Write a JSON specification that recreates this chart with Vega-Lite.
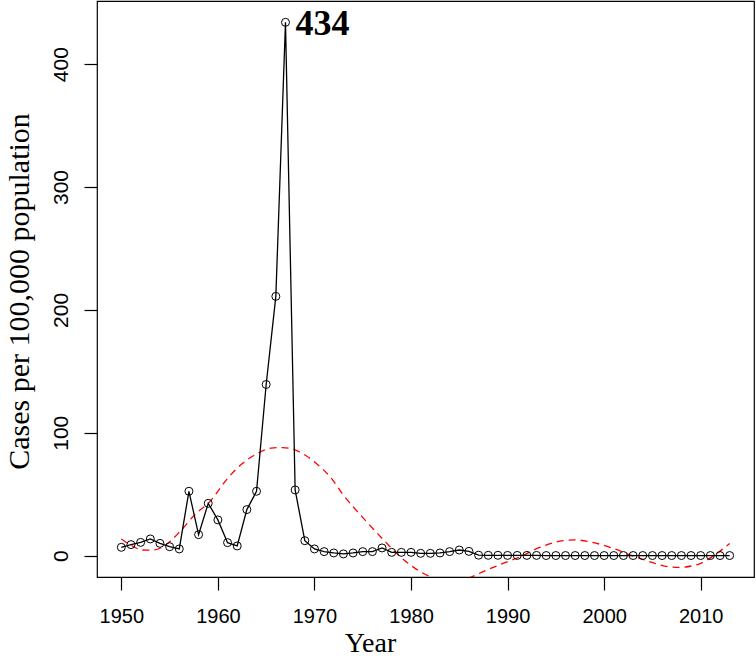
{
  "$schema": "https://vega.github.io/schema/vega-lite/v6.json",
  "width": 657,
  "height": 576,
  "autosize": {"type": "none"},
  "padding": {"left": 97, "top": 1, "right": 2, "bottom": 81},
  "background": "white",
  "config": {
    "view": {"stroke": "black", "strokeWidth": 1.2},
    "axis": {
      "grid": false,
      "domain": false,
      "ticks": true,
      "tickColor": "black",
      "tickWidth": 1.2,
      "tickSize": 13,
      "labelFont": "Liberation Sans",
      "labelFontSize": 20,
      "labelColor": "black",
      "titleFont": "Liberation Serif",
      "titleFontSize": 28,
      "titleFontWeight": "normal",
      "titleColor": "black"
    }
  },
  "datasets": {
    "cases": [
      {"year": 1950, "cases": 6.8}, {"year": 1951, "cases": 9.0}, {"year": 1952, "cases": 10.8},
      {"year": 1953, "cases": 13.6}, {"year": 1954, "cases": 10.0}, {"year": 1955, "cases": 7.3},
      {"year": 1956, "cases": 5.5}, {"year": 1957, "cases": 52.4}, {"year": 1958, "cases": 17.1},
      {"year": 1959, "cases": 42.6}, {"year": 1960, "cases": 29.1}, {"year": 1961, "cases": 10.6},
      {"year": 1962, "cases": 7.9}, {"year": 1963, "cases": 37.5}, {"year": 1964, "cases": 52.4},
      {"year": 1965, "cases": 139.3}, {"year": 1966, "cases": 211}, {"year": 1967, "cases": 434},
      {"year": 1968, "cases": 53.5}, {"year": 1969, "cases": 12.2}, {"year": 1970, "cases": 5.5},
      {"year": 1971, "cases": 3.3}, {"year": 1972, "cases": 2.2}, {"year": 1973, "cases": 1.4},
      {"year": 1974, "cases": 2.2}, {"year": 1975, "cases": 3.3}, {"year": 1976, "cases": 3.3},
      {"year": 1977, "cases": 6.3}, {"year": 1978, "cases": 2.7}, {"year": 1979, "cases": 2.7},
      {"year": 1980, "cases": 2.7}, {"year": 1981, "cases": 1.9}, {"year": 1982, "cases": 1.9},
      {"year": 1983, "cases": 2.2}, {"year": 1984, "cases": 3.3}, {"year": 1985, "cases": 4.6},
      {"year": 1986, "cases": 3.5}, {"year": 1987, "cases": 0.4}, {"year": 1988, "cases": 0.3},
      {"year": 1989, "cases": 0.3}, {"year": 1990, "cases": 0.2}, {"year": 1991, "cases": 0.2},
      {"year": 1992, "cases": 0.2}, {"year": 1993, "cases": 0.2}, {"year": 1994, "cases": 0.1},
      {"year": 1995, "cases": 0.1}, {"year": 1996, "cases": 0.1}, {"year": 1997, "cases": 0.1},
      {"year": 1998, "cases": 0.1}, {"year": 1999, "cases": 0.1}, {"year": 2000, "cases": 0.1},
      {"year": 2001, "cases": 0.1}, {"year": 2002, "cases": 0.1}, {"year": 2003, "cases": 0.1},
      {"year": 2004, "cases": 0.1}, {"year": 2005, "cases": 0.1}, {"year": 2006, "cases": 0.1},
      {"year": 2007, "cases": 0.1}, {"year": 2008, "cases": 0.1}, {"year": 2009, "cases": 0.1},
      {"year": 2010, "cases": 0.1}, {"year": 2011, "cases": 0.1}, {"year": 2012, "cases": 0.1},
      {"year": 2013, "cases": 0.1}
    ],
    "trend": [
      {"year": 1950, "fit": 13.6}, {"year": 1951, "fit": 8.5}, {"year": 1952.2, "fit": 4.6},
      {"year": 1953.2, "fit": 4.5}, {"year": 1954.2, "fit": 6.8}, {"year": 1955.1, "fit": 12},
      {"year": 1956.0, "fit": 19}, {"year": 1957.7, "fit": 34}, {"year": 1959.1, "fit": 43.4},
      {"year": 1961.1, "fit": 63.8}, {"year": 1962.5, "fit": 74.7}, {"year": 1964.3, "fit": 84},
      {"year": 1965.5, "fit": 87.5}, {"year": 1966.7, "fit": 88}, {"year": 1968, "fit": 86},
      {"year": 1969.1, "fit": 81.5}, {"year": 1970.5, "fit": 73}, {"year": 1971.8, "fit": 62.5},
      {"year": 1972.9, "fit": 50.3}, {"year": 1975.3, "fit": 28.5}, {"year": 1977.4, "fit": 10.8},
      {"year": 1978.4, "fit": 2.7}, {"year": 1980.8, "fit": -12.2}, {"year": 1982.5, "fit": -18.7},
      {"year": 1984.2, "fit": -21.5}, {"year": 1985.8, "fit": -18.7}, {"year": 1987.7, "fit": -12.2},
      {"year": 1989.8, "fit": -5.5}, {"year": 1991.2, "fit": -1.2}, {"year": 1993.2, "fit": 6.3},
      {"year": 1995.3, "fit": 11.6}, {"year": 1997.0, "fit": 12.8}, {"year": 1998.8, "fit": 10.8},
      {"year": 2000.8, "fit": 6.3}, {"year": 2002.9, "fit": 0}, {"year": 2004.6, "fit": -4.6},
      {"year": 2006.4, "fit": -8.7}, {"year": 2007.7, "fit": -9.5}, {"year": 2009.8, "fit": -6.8},
      {"year": 2011.5, "fit": 0.8}, {"year": 2013, "fit": 10}
    ]
  },
  "layer": [
    {
      "data": {"name": "trend"},
      "mark": {"type": "line", "color": "#ff0000", "strokeDash": [7, 5], "strokeWidth": 1.3, "clip": true, "interpolate": "monotone"},
      "encoding": {
        "x": {
          "field": "year", "type": "quantitative",
          "scale": {"domain": [1947.48, 2015.52], "nice": false, "zero": false},
          "axis": {
            "values": [1950, 1960, 1970, 1980, 1990, 2000, 2010],
            "format": "d",
            "labelPadding": 16,
            "title": "Year",
            "titleX": 273,
            "titleY": 74,
            "titleAlign": "center",
            "titleBaseline": "alphabetic"
          }
        },
        "y": {
          "field": "fit", "type": "quantitative",
          "scale": {"domain": [-17.36, 451.36], "nice": false, "zero": false},
          "axis": {
            "values": [0, 100, 200, 300, 400],
            "labelAngle": -90,
            "labelAlign": "center",
            "labelBaseline": "alphabetic",
            "labelFontSize": 21,
            "labelPadding": 17,
            "title": "Cases per 100,000 population",
            "titleFontSize": 30,
            "titleAngle": -90,
            "titleX": -69,
            "titleY": 290,
            "titleAlign": "center",
            "titleBaseline": "alphabetic"
          }
        }
      }
    },
    {
      "data": {"name": "cases"},
      "mark": {"type": "line", "color": "black", "strokeWidth": 1.3},
      "encoding": {
        "x": {"field": "year", "type": "quantitative"},
        "y": {"field": "cases", "type": "quantitative"}
      }
    },
    {
      "data": {"name": "cases"},
      "mark": {"type": "point", "shape": "circle", "filled": false, "color": "black", "size": 64, "strokeWidth": 1, "opacity": 1},
      "encoding": {
        "x": {"field": "year", "type": "quantitative"},
        "y": {"field": "cases", "type": "quantitative"}
      }
    },
    {
      "data": {"name": "cases"},
      "transform": [{"filter": "datum.year == 1967"}],
      "mark": {"type": "text", "font": "Liberation Serif", "fontWeight": "bold", "fontSize": 36, "align": "left", "baseline": "middle", "dx": 10, "dy": 2, "color": "black"},
      "encoding": {
        "x": {"field": "year", "type": "quantitative"},
        "y": {"field": "cases", "type": "quantitative"},
        "text": {"field": "cases", "type": "quantitative", "format": "d"}
      }
    }
  ]
}
